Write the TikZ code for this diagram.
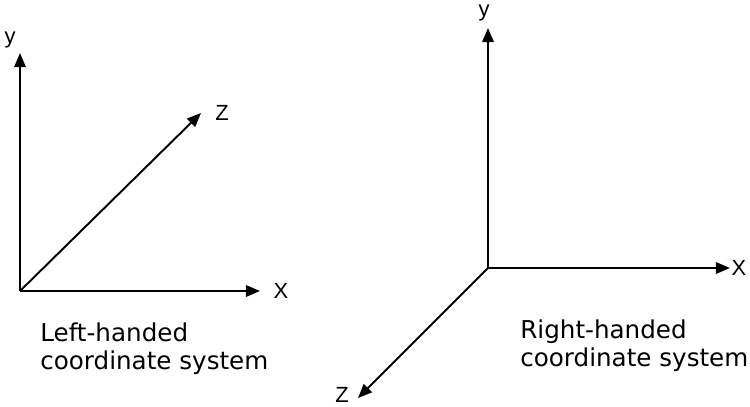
\documentclass[tikz,border=0pt]{standalone}
\usepackage{fontspec}
\setmainfont{Liberation Sans}
\newfontfamily\captionfont{DejaVu Sans}
\usetikzlibrary{arrows.meta}

\begin{document}
\begin{tikzpicture}[x=0.02cm,y=-0.02cm,>={Triangle[length=8pt,width=6.5pt]},
  axis/.style={->,line width=1.1pt},
  lbl/.style={font=\fontsize{12.5}{14}\selectfont,inner sep=0pt},
  legend/.style={font=\captionfont\fontsize{14}{16}\selectfont,align=left,anchor=north west,inner sep=0pt}]
  \useasboundingbox (0,0) rectangle (750,406);
  % left-handed system
  \begin{scope}
    \coordinate (O1) at (20,291);
    \coordinate (Y1) at (20,53);
    \coordinate (X1) at (260,291);
    \coordinate (Z1) at (201,113);
    \draw[axis] (O1)--(Y1);
    \draw[axis] (O1)--(X1);
    \draw[axis] (O1)--(Z1);
    \node[lbl] (y1) at (10,40) {y};
    \node[lbl] (x1) at (281,291) {X};
    \node[lbl] (z1) at (222,113) {Z};
    \node[legend] (cap1) at (40,322) {Left-handed\\coordinate system};
  \end{scope}
  % right-handed system
  \begin{scope}
    \coordinate (O2) at (488,268);
    \coordinate (Y2) at (488,28);
    \coordinate (X2) at (730,268);
    \coordinate (Z2) at (358,398);
    \draw[axis] (O2)--(Y2);
    \draw[axis] (O2)--(X2);
    \draw[axis] (O2)--(Z2);
    \node[lbl] (y2) at (484,13) {y};
    \node[lbl] (x2) at (739,268) {X};
    \node[lbl] (z2) at (342,395) {Z};
    \node[legend] (cap2) at (520,319) {Right-handed\\coordinate system};
  \end{scope}
\end{tikzpicture}
\end{document}
